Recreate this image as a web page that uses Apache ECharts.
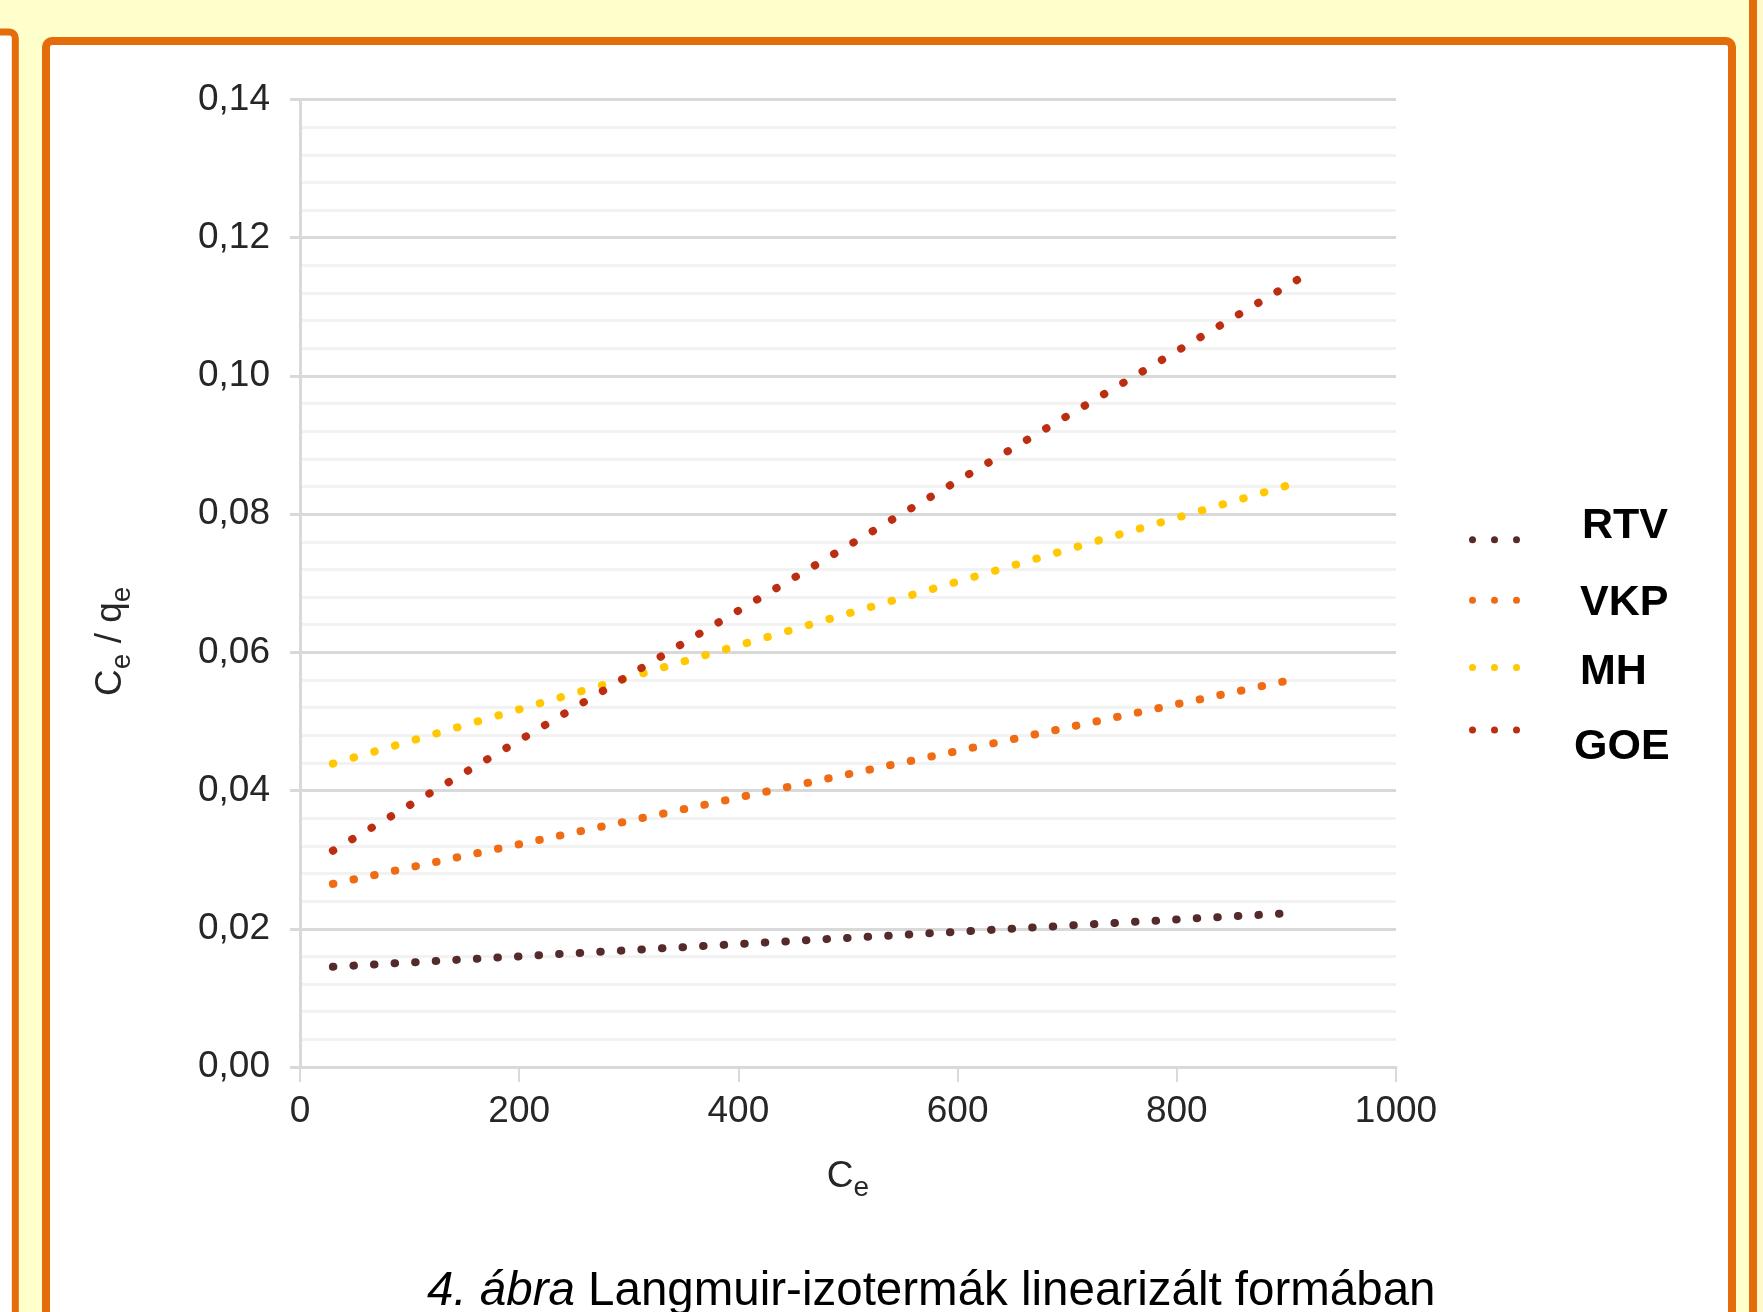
<!DOCTYPE html>
<html>
<head>
<meta charset="utf-8">
<script src="https://cdn.jsdelivr.net/npm/echarts@6/dist/echarts.min.js"></script>
<style>
  html, body { margin: 0; padding: 0; background: #ffffcc; }
  #chart { width: 1763px; height: 1312px; }
</style>
</head>
<body>
<div id="chart"></div>
<script>
// ---- data ----
const seriesNames = ['RTV', 'VKP', 'MH', 'GOE'];
const ceStart = [30, 30, 30, 30];
const ceEnd = [896, 898, 900, 912];
const ratioStart = [0.0145, 0.0265, 0.0439, 0.0313];
const ratioEnd = [0.0222, 0.0558, 0.0841, 0.1141];
const xTicks = ['0', '200', '400', '600', '800', '1000'];
const yTicks = ['0,00', '0,02', '0,04', '0,06', '0,08', '0,10', '0,12', '0,14'];
const captionItalic = '4. ábra';
const captionText = 'Langmuir-izotermák linearizált formában';

// ---- styles ----
const FONT = 'Liberation Sans, Arial, sans-serif';
const colors = ['#542a2a', '#ef6c14', '#ffc800', '#bb2e12'];
const dotPeriod = [20.6, 21.1, 21.55, 22.4];
const legendShift = [-13.6, 2.3, 5.2, 16.8];   // text offset from its dots (px)
const legendIndent = [57, 55, 55, 49];        // text start after the dots (px)
const LEG_PAD = 34;
const ORANGE = '#e46c0a';

const chart = echarts.init(document.getElementById('chart'));

const series = seriesNames.map((name, i) => ({
  name: name,
  type: 'line',
  data: [[ceStart[i], ratioStart[i]], [ceEnd[i], ratioEnd[i]]],
  symbol: 'none',
  showSymbol: false,
  silent: true,
  clip: false,
  itemStyle: { color: colors[i] },
  lineStyle: { color: colors[i], width: 8, type: [0.5, dotPeriod[i] - 0.5], cap: 'round' },
  z: 5
}));

const dotsIcon = 'path://M0,3.5A3.5,3.5,0,1,0,7,3.5A3.5,3.5,0,1,0,0,3.5Z' +
  'M22,3.5A3.5,3.5,0,1,0,29,3.5A3.5,3.5,0,1,0,22,3.5Z' +
  'M44,3.5A3.5,3.5,0,1,0,51,3.5A3.5,3.5,0,1,0,44,3.5Z';

const legendRich = {};
seriesNames.forEach((n, i) => {
  legendRich['top' + i] = { fontSize: 1, lineHeight: LEG_PAD / 2 + legendShift[i] };
  legendRich['bot' + i] = { fontSize: 1, lineHeight: LEG_PAD / 2 - legendShift[i] };
  legendRich['t' + i] = {
    fontFamily: FONT, fontSize: 43, fontWeight: 'bold', color: '#000',
    lineHeight: 43, padding: [0, 0, 0, legendIndent[i]]
  };
});

const option = {
  animation: false,
  backgroundColor: 'transparent',
  graphic: [
    { type: 'rect', z: -10, shape: { x: -100, y: 32, width: 115.3, height: 1500, r: 6 },
      style: { fill: '#ffffff', stroke: ORANGE, lineWidth: 7 } },
    { type: 'rect', z: -10, shape: { x: 46, y: 41, width: 1686, height: 1500, r: 6 },
      style: { fill: '#ffffff', stroke: ORANGE, lineWidth: 8 } },
    { type: 'rect', z: -10, shape: { x: 1753, y: -50, width: 200, height: 1500, r: 6 },
      style: { fill: '#fff8c8', stroke: ORANGE, lineWidth: 8 } }
  ],
  title: {
    text: '{i|' + captionItalic + '} ' + captionText,
    left: 427,
    top: 1268,
    padding: 0,
    textStyle: {
      fontFamily: FONT, fontSize: 47.5, fontWeight: 'normal', color: '#000',
      rich: { i: { fontFamily: FONT, fontSize: 47.5, fontStyle: 'italic', color: '#000' } }
    }
  },
  legend: {
    orient: 'vertical',
    left: 1469,
    top: 541 - (43 + LEG_PAD) / 2,
    padding: 0,
    itemGap: 7.5,
    itemWidth: 51,
    itemHeight: 7,
    icon: dotsIcon,
    selectedMode: false,
    data: seriesNames,
    formatter: (name) => {
      const i = seriesNames.indexOf(name);
      return '{top' + i + '| }\n{t' + i + '|' + name + '}\n{bot' + i + '| }';
    },
    textStyle: { fontFamily: FONT, fontSize: 43, fontWeight: 'bold', color: '#000', rich: legendRich }
  },
  grid: { left: 300, right: 367, top: 99.5, bottom: 245, containLabel: false },
  xAxis: {
    type: 'value',
    min: 0,
    max: 1000,
    interval: 200,
    axisLine: { show: true, lineStyle: { color: '#d9d9d9', width: 3 } },
    axisTick: { show: true, length: 15, lineStyle: { color: '#d9d9d9', width: 2 } },
    axisLabel: {
      margin: 26, fontSize: 37, color: '#262626', fontFamily: FONT,
      formatter: (v) => xTicks[Math.round(v / 200)]
    },
    splitLine: { show: false },
    name: '{a|C}{b|e}',
    nameLocation: 'middle',
    nameGap: 91,
    nameTextStyle: {
      rich: {
        a: { fontFamily: FONT, fontSize: 37, color: '#262626', padding: [0, 0, 7, 0], verticalAlign: 'bottom' },
        b: { fontFamily: FONT, fontSize: 28, color: '#262626', verticalAlign: 'bottom' }
      }
    }
  },
  yAxis: {
    type: 'value',
    min: 0,
    max: 0.14,
    interval: 0.02,
    axisLine: { show: true, lineStyle: { color: '#d9d9d9', width: 3 } },
    axisTick: { show: true, length: 10, lineStyle: { color: '#d9d9d9', width: 3 } },
    axisLabel: {
      margin: 30, fontSize: 37, color: '#262626', fontFamily: FONT,
      formatter: (v) => yTicks[Math.round(v / 0.02)]
    },
    splitLine: { show: true, lineStyle: { color: '#d9d9d9', width: 3 } },
    minorTick: { show: false, splitNumber: 5 },
    minorSplitLine: { show: true, lineStyle: { color: '#f2f2f2', width: 3 } },
    name: '{a|C}{b|e}{a| / q}{b|e}',
    nameLocation: 'middle',
    nameGap: 164,
    nameTextStyle: {
      padding: [0, 116, 0, 0],
      rich: {
        a: { fontFamily: FONT, fontSize: 37, color: '#262626', padding: [0, 0, 7, 0], verticalAlign: 'bottom' },
        b: { fontFamily: FONT, fontSize: 28, color: '#262626', verticalAlign: 'bottom' }
      }
    }
  },
  series: series
};

chart.setOption(option);
</script>
</body>
</html>
